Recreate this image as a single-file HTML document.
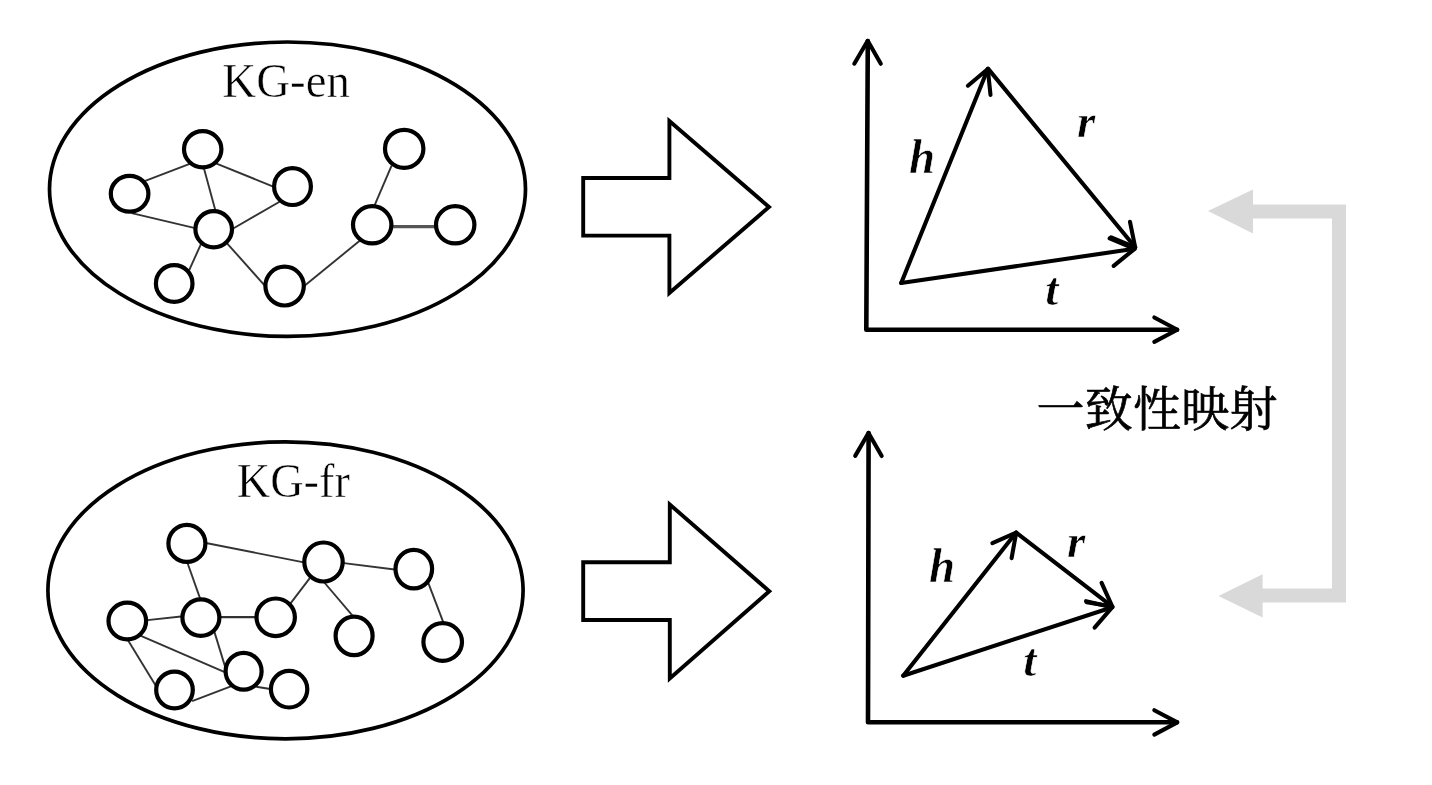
<!DOCTYPE html>
<html lang="zh">
<head>
<meta charset="utf-8">
<title>KG alignment</title>
<style>
html,body{margin:0;padding:0;background:#fff;}
body{width:1432px;height:785px;overflow:hidden;}
svg{display:block;filter:blur(0.5px);}
.lab{font-family:"Liberation Serif","Noto Serif CJK SC",serif;font-size:47px;fill:#000;stroke:#fff;stroke-width:0.5px;paint-order:fill stroke;}
.bi{font-family:"Liberation Serif",serif;font-weight:bold;font-style:italic;font-size:47px;fill:#000;stroke:#fff;stroke-width:0.6px;paint-order:fill stroke;}
.cn{font-family:"Liberation Serif","Noto Serif CJK SC",serif;font-size:48px;fill:#000;stroke:#000;stroke-width:0.7px;}
</style>
</head>
<body>
<svg width="1432" height="785" viewBox="0 0 1432 785">
<rect width="1432" height="785" fill="#fff"/>

<g fill="none" stroke="#000" stroke-width="3.7">
<ellipse cx="287.5" cy="189.2" rx="238" ry="147.2"/>
<ellipse cx="285.5" cy="590.35" rx="237.6" ry="148.45"/>
</g>
<g stroke="#333" stroke-width="1.9" fill="none"><line x1="144.6" y1="181.2" x2="191.0" y2="163.3"/><line x1="214.7" y1="162.9" x2="275.1" y2="187.3"/><line x1="203.3" y1="166.1" x2="215.8" y2="212.1"/><line x1="131.7" y1="213.2" x2="196.2" y2="228.3"/><line x1="281.3" y1="200.7" x2="231.5" y2="229.5"/><line x1="202.2" y1="241.3" x2="188.3" y2="272.1"/><line x1="225.7" y1="241.8" x2="265.4" y2="286.3"/><line x1="303.3" y1="286.7" x2="360.3" y2="240.3"/><line x1="391.6" y1="165.6" x2="373.6" y2="207.6"/></g><line x1="389.0" y1="226.7" x2="438.0" y2="226.7" stroke="#555" stroke-width="3.2"/><g stroke="#000" stroke-width="4.2" fill="#fff"><ellipse cx="202.7" cy="149.2" rx="18.7" ry="18.1"/><ellipse cx="129.6" cy="193.8" rx="18.8" ry="17.9"/><ellipse cx="292.5" cy="186.6" rx="18.4" ry="18.4"/><ellipse cx="213.7" cy="229.2" rx="18.3" ry="18.1"/><ellipse cx="174.2" cy="283.5" rx="18.3" ry="18.3"/><ellipse cx="284.6" cy="286.1" rx="19.2" ry="19.4"/><ellipse cx="404.2" cy="148.8" rx="19.2" ry="19.0"/><ellipse cx="372.2" cy="224.8" rx="19.2" ry="18.6"/><ellipse cx="455.2" cy="224.8" rx="19.2" ry="18.6"/></g>
<g stroke="#333" stroke-width="1.9" fill="none"><line x1="204.7" y1="542.8" x2="305.1" y2="562.6"/><line x1="186.9" y1="561.3" x2="200.4" y2="599.4"/><line x1="341.9" y1="562.9" x2="396.6" y2="569.7"/><line x1="309.8" y1="578.1" x2="289.6" y2="604.6"/><line x1="323.9" y1="582.0" x2="353.8" y2="617.2"/><line x1="427.7" y1="581.3" x2="443.9" y2="623.9"/><line x1="145.2" y1="620.4" x2="183.3" y2="616.3"/><line x1="139.2" y1="635.1" x2="227.0" y2="673.2"/><line x1="127.1" y1="638.8" x2="156.4" y2="686.7"/><line x1="213.7" y1="629.6" x2="225.1" y2="666.6"/><line x1="192.1" y1="701.1" x2="231.5" y2="686.2"/><line x1="256.2" y1="686.7" x2="272.0" y2="689.3"/></g><line x1="218.7" y1="617.2" x2="257.8" y2="617.2" stroke="#333" stroke-width="2.2"/><g stroke="#000" stroke-width="4.2" fill="#fff"><ellipse cx="186.9" cy="543.4" rx="18.5" ry="18.5"/><ellipse cx="323.5" cy="562.0" rx="19.2" ry="19.5"/><ellipse cx="127.3" cy="621.0" rx="18.8" ry="18.3"/><ellipse cx="200.9" cy="617.6" rx="18.5" ry="18.3"/><ellipse cx="275.7" cy="617.3" rx="19.2" ry="18.8"/><ellipse cx="243.6" cy="671.3" rx="18.0" ry="18.4"/><ellipse cx="174.5" cy="690.0" rx="18.3" ry="18.3"/><ellipse cx="289.1" cy="689.2" rx="18.2" ry="18.3"/><ellipse cx="354.1" cy="635.9" rx="18.5" ry="19.2"/><ellipse cx="413.8" cy="569.1" rx="18.3" ry="19.2"/><ellipse cx="442.7" cy="642.0" rx="19.3" ry="18.9"/></g>
<text class="lab" transform="translate(222.3,96.9) scale(1,1.03)" textLength="127.6" lengthAdjust="spacingAndGlyphs">KG-en</text>
<text class="lab" transform="translate(236.8,496.9) scale(1,1.03)" textLength="113" lengthAdjust="spacingAndGlyphs">KG-fr</text>
<g fill="#fff" stroke="#000" stroke-width="3.9" stroke-linejoin="miter">
<polygon points="583.2,178 669.4,178 669.4,121 769,207 669.4,293 669.4,235.6 583.2,235.6"/>
<polygon points="583.2,562.2 669.8,562.2 669.8,504.5 769.3,591.3 669.8,678.5 669.8,620 583.2,620"/>
</g>
<g fill="none" stroke="#000" stroke-width="4.1" stroke-linecap="round" stroke-linejoin="round">
<polyline points="867.8,41 866.3,329.7 1177,329.7" stroke-width="4.6"/>
<polyline points="854.3,63.7 867.7,40.8 880.8,63.8"/>
<polyline points="1154.3,317.5 1177.3,329.7 1154.3,341.9"/>
<line x1="901.2" y1="283.0" x2="987.8" y2="69.0"/><polyline points="967.9,85.7 987.8,69.0 990.5,94.9"/>
<line x1="988.0" y1="68.6" x2="1135.2" y2="247.3"/><polyline points="1130.0,221.8 1135.2,247.3 1111.2,237.3"/>
<line x1="901.2" y1="283.0" x2="1134.6" y2="248.8"/><polyline points="1109.7,238.4 1134.6,248.8 1113.7,265.9"/>
<polyline points="868.6,433 868.0,722.3 1177,722.3" stroke-width="4.6"/>
<polyline points="855.2,455.9 868.5,433.0 881.7,456.0"/>
<polyline points="1154.3,710.2 1177.3,722.4 1154.3,734.6"/>
<line x1="903.2" y1="675.7" x2="1016.2" y2="532.6"/><polyline points="992.4,543.1 1016.2,532.6 1011.6,558.2"/>
<line x1="1016.2" y1="532.6" x2="1112.3" y2="606.6"/><polyline points="1101.6,582.9 1112.3,606.6 1086.7,602.3"/>
<line x1="903.2" y1="675.7" x2="1112.3" y2="607.2"/><polyline points="1086.0,601.2 1112.3,607.2 1094.6,627.6"/>
</g>
<text class="bi" transform="translate(909,173.3) scale(1,1.05)">h</text>
<text class="bi" x="1077" y="137">r</text>
<text class="bi" x="1045.2" y="305">t</text>
<text class="bi" transform="translate(929,582.3) scale(1,1.05)">h</text>
<text class="bi" x="1067" y="557">r</text>
<text class="bi" x="1023.2" y="676">t</text>
<g fill="#d9d9d9" stroke="none">
<polyline points="1252,211.5 1339,211.5 1339,595.5 1261,595.5" fill="none" stroke="#d9d9d9" stroke-width="14" stroke-linejoin="miter"/>
<polygon points="1208,211 1253,189.5 1253,233.5"/>
<polygon points="1218.5,596 1262.6,574.3 1262.6,617.6"/>
</g>
<text class="cn" x="1036.5" y="426" textLength="241" lengthAdjust="spacing">一致性映射</text>
</svg>
</body>
</html>
